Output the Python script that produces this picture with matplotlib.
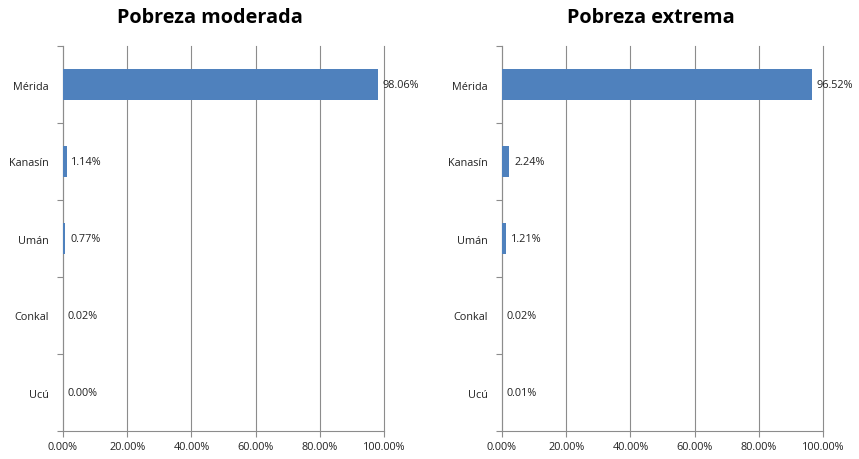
import matplotlib.pyplot as plt
import numpy as np

municipios = ["Mérida", "Kanasín", "Umán", "Conkal", "Ucú"]
moderada = [98.06, 1.14, 0.77, 0.02, 0.00]
extrema = [96.52, 2.24, 1.21, 0.02, 0.01]
titulos = ["Pobreza moderada", "Pobreza extrema"]
xticks = [0, 20, 40, 60, 80, 100]

plt.rcParams['font.family'] = ['Open Sans', 'DejaVu Sans']

fig = plt.figure(figsize=(8.59, 4.6), dpi=100)
W, H = 859, 460
bar_color = '#4F81BD'
grid_color = '#8c8c8c'


def panel(left_px, vals, title, title_x):
    ax = fig.add_axes([left_px / W, 1 - 432 / H, 321 / W, 385 / H])
    n = len(municipios)
    y = np.arange(n)
    ax.barh(y, vals, height=0.4, color=bar_color, zorder=3)
    ax.set_xlim(0, 100)
    ax.set_ylim(n - 0.5, -0.5)
    ax.set_xticks(xticks)
    ax.set_xticklabels(['%.2f%%' % t for t in xticks], fontsize=7.8, color='#222222')
    ax.set_yticks(y)
    ax.set_yticklabels(municipios, fontsize=7.8, color='#222222')
    ax.set_yticks(np.arange(n + 1) - 0.5, minor=True)
    ax.tick_params(axis='y', which='major', length=0, pad=10)
    ax.tick_params(axis='y', which='minor', length=4, color=grid_color, width=0.8)
    ax.tick_params(axis='x', length=4, color=grid_color, width=0.8, pad=3)
    ax.grid(axis='x', color=grid_color, linewidth=0.8, zorder=0)
    for gl in ax.get_xgridlines():
        gl.set_clip_on(False)
    for s in ['top', 'right']:
        ax.spines[s].set_visible(False)
    for s in ['left', 'bottom']:
        ax.spines[s].set_color(grid_color)
        ax.spines[s].set_linewidth(0.8)
    for i, v in enumerate(vals):
        ax.text(v + 1.5, i, '%.2f%%' % v, va='center', ha='left', fontsize=7.8,
                color='#222222', zorder=4)
    fig.text(title_x / W, 1 - 18 / H, title, ha='center', va='center',
             fontsize=14.3, fontweight='bold', color='black')
    return ax


panel(63, moderada, titulos[0], 210)
panel(502, extrema, titulos[1], 651)

fig.savefig('out.png', dpi=100)
